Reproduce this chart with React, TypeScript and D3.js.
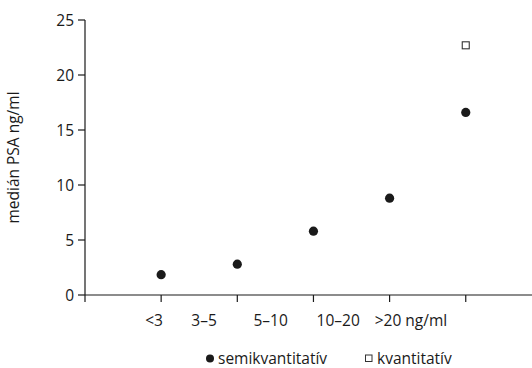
import React from "react";
import * as d3 from "d3";

const categories = ["<3", "3–5", "5–10", "10–20", ">20 ng/ml"];
const semiValues = [1.85, 2.8, 5.8, 8.8, 16.6];
const quantValues = [null, null, null, null, 22.7];
const yTicks = [0, 5, 10, 15, 20, 25];
// label shifts relative to tick (the source sets labels as one loose line)
const labelShift = [-16, -46, -60, -73, -91];

const width = 532;
const height = 368;
const margin = { left: 85, right: 0, top: 20, bottom: 73 };
const font = "'Open Sans', 'Noto Sans', sans-serif";
const ink = "#1a1a1a";
const fs = 15.5;

export default function App() {
  const xScale = d3.scaleLinear().domain([0, 5.87]).range([margin.left, width - margin.right]);
  const yScale = d3.scaleLinear().domain([0, 25]).range([height - margin.bottom, margin.top]);
  const y0 = yScale(0);

  return (
    <svg
      width={width}
      height={height}
      style={{ position: "absolute", left: 0, top: 0, background: "#fff" }}
      fontFamily={font}
    >
      {/* y axis */}
      <line x1={margin.left} x2={margin.left} y1={yScale(25)} y2={y0} stroke={ink} strokeWidth={1.2} />
      {yTicks.map(t => (
        <g key={t}>
          <line x1={margin.left - 7} x2={margin.left} y1={yScale(t)} y2={yScale(t)} stroke={ink} strokeWidth={1.2} />
          <text x={margin.left - 11} y={yScale(t)} dy="0.36em" textAnchor="end" fontSize={fs} fill={ink}>
            {t}
          </text>
        </g>
      ))}
      <text
        transform={`translate(19,${(yScale(0) + yScale(25)) / 2}) rotate(-90)`}
        textAnchor="middle"
        fontSize={fs}
        fill={ink}
      >
        medián PSA ng/ml
      </text>

      {/* x axis */}
      <line x1={margin.left} x2={width} y1={y0} y2={y0} stroke={ink} strokeWidth={1.2} />
      {d3.range(0, 6).map(i => (
        <line key={i} x1={xScale(i)} x2={xScale(i)} y1={y0} y2={y0 + 7} stroke={ink} strokeWidth={1.2} />
      ))}
      {categories.map((c, i) => (
        <text key={c} x={xScale(i + 1) + labelShift[i]} y={y0 + 31} textAnchor="start" fontSize={fs} fill={ink}>
          {c}
        </text>
      ))}

      {/* points */}
      {semiValues.map((v, i) => (
        <circle key={i} cx={xScale(i + 1)} cy={yScale(v)} r={4.6} fill={ink} />
      ))}
      {quantValues.map((v, i) =>
        v == null ? null : (
          <rect
            key={i}
            x={xScale(i + 1) - 3.5}
            y={yScale(v) - 3.5}
            width={7}
            height={7}
            fill="#fff"
            stroke="#333"
            strokeWidth={1.1}
          />
        )
      )}

      {/* legend */}
      <circle cx={210} cy={358.5} r={4} fill={ink} />
      <text x={218} y={364} fontSize={fs} fill={ink}>semikvantitatív</text>
      <rect x={365.5} y={355} width={6.5} height={6.5} fill="#fff" stroke="#333" strokeWidth={1} />
      <text x={377} y={364} fontSize={fs} fill={ink}>kvantitatív</text>
    </svg>
  );
}
